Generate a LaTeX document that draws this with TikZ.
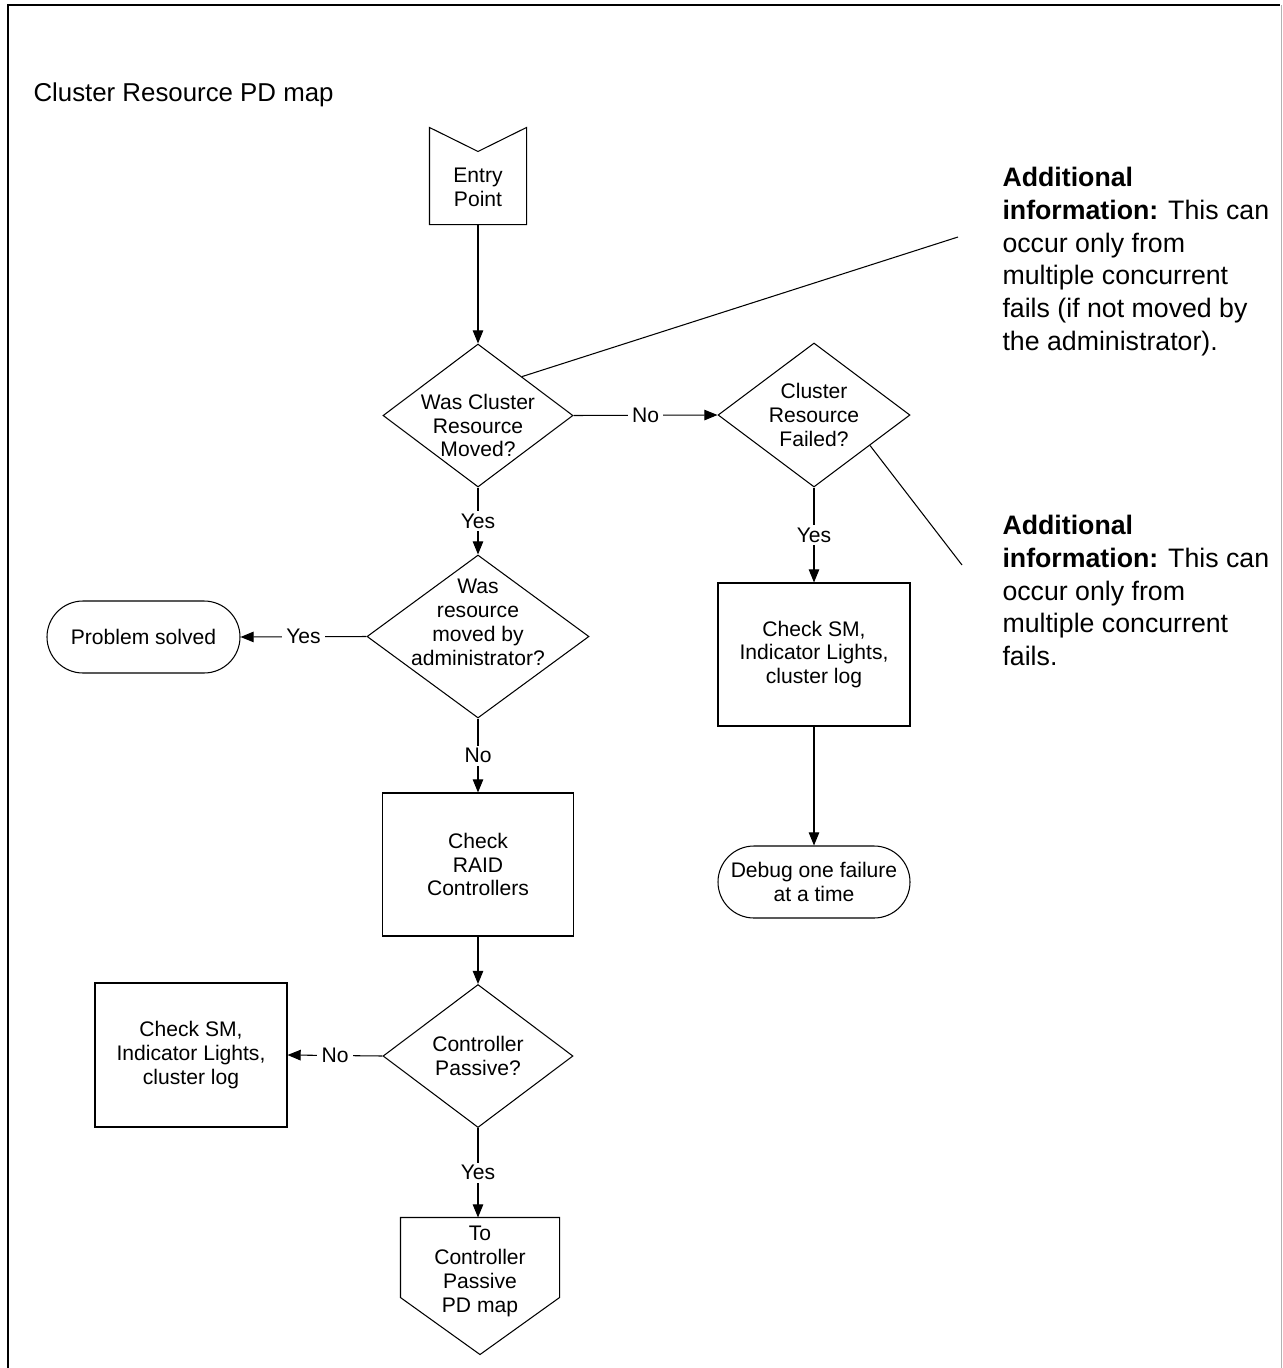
\documentclass[tikz,border=0pt]{standalone}
\usepackage{fontspec}
\setmainfont{Liberation Sans}
\usetikzlibrary{arrows.meta,calc,shapes.geometric,shapes.misc}

\begin{document}
\begin{tikzpicture}[
  line width=.6pt,
  flow/.style={font=\fontsize{12}{13.6}\selectfont,align=center,inner sep=0pt},
  dia/.style={draw,diamond,inner sep=0pt},
  box/.style={flow,draw,rectangle},
  term/.style={flow,draw,rounded rectangle},
  lbl/.style={flow,fill=white,inner xsep=2.5pt,inner ysep=1.5pt},
  link/.style={-{Triangle[length=7.5pt,width=6pt]}},
  note/.style={font=\fontsize{15.2}{18.6}\selectfont,align=left,inner sep=0pt,anchor=north west}]
  % Page frame (open at the bottom) and title.
  \useasboundingbox (0,0) rectangle (25.66,-27.36);
  \draw[line width=.9pt] (0.16,-27.36) -- (0.16,-0.1) -- (25.6,-0.1);
  \draw[black!30] (25.63,-0.1) -- (25.63,-27.36);
  \node[font=\fontsize{14.7}{17}\selectfont,anchor=base west,inner sep=0pt] (title) at (0.66,-2.02) {Cluster Resource PD map};
  % Entry point, notched at the top.
  \node[minimum width=1.92cm,minimum height=1.92cm,inner sep=0pt] (entry) at (9.56,-3.52) {};
  \draw (entry.north west) -- ($(entry.north)+(0,-.48)$) -- (entry.north east) -- (entry.south east) -- (entry.south west) -- cycle;
  \node[flow] (entrytxt) at ($(entry)+(0,-.22)$) {Entry\\Point};
  % Decisions (text set over the empty diamonds).
  \node[dia,minimum width=3.8cm,minimum height=2.86cm] (moved) at (9.56,-8.31) {};
  \node[flow] (movedtxt) at ($(moved)+(0,-.2)$) {Was Cluster\\Resource\\Moved?};
  \node[dia,minimum width=3.84cm,minimum height=2.88cm] (failed) at (16.28,-8.3) {};
  \node[flow] (failedtxt) at (failed) {Cluster\\Resource\\Failed?};
  \node[dia,minimum width=4.44cm,minimum height=3.26cm] (byadmin) at (9.56,-12.73) {};
  \node[flow] (byadmintxt) at ($(byadmin)+(0,.28)$) {Was\\resource\\moved by\\administrator?};
  \node[dia,minimum width=3.8cm,minimum height=2.86cm] (passive) at (9.56,-21.12) {};
  \node[flow] (passivetxt) at (passive) {Controller\\Passive?};
  % Actions and terminals.
  \node[box,minimum width=3.82cm,minimum height=2.86cm] (raid) at (9.56,-17.29) {Check\\RAID\\Controllers};
  \node[box,minimum width=3.84cm,minimum height=2.88cm] (smleft) at (3.82,-21.1) {Check SM,\\Indicator Lights,\\cluster log};
  \node[box,minimum width=3.84cm,minimum height=2.86cm] (smright) at (16.28,-13.09) {Check SM,\\Indicator Lights,\\cluster log};
  \node[term,minimum width=3.86cm,minimum height=1.44cm] (solved) at (2.87,-12.74) {Problem solved};
  \node[term,minimum width=3.84cm,minimum height=1.44cm] (debug) at (16.28,-17.64) {Debug one failure\\at a time};
  % Off-page connector, pointed at the bottom.
  \node[minimum width=3.16cm,minimum height=2.72cm,inner sep=0pt] (topd) at (9.6,-25.72) {};
  \draw (topd.north west) -- (topd.north east) -- ($(topd.south east)+(0,1.14)$) -- (topd.south) -- ($(topd.south west)+(0,1.14)$) -- cycle;
  \node[flow] (topdtxt) at ($(topd)+(0,.29)$) {To\\Controller\\Passive\\PD map};
  % Flow lines.
  \draw[link] (entry.south) -- (moved.north);
  \draw[link] (moved.east) -- node[lbl] (no1) {No} (failed.west);
  \draw[link] (moved.south) -- node[lbl] (yes1) {Yes} (byadmin.north);
  \draw[link] (byadmin.west) -- node[lbl] (yes2) {Yes} (solved.east);
  \draw[link] (byadmin.south) -- node[lbl] (no2) {No} (raid.north);
  \draw[link] (raid.south) -- (passive.north);
  \draw[link] (passive.west) -- node[lbl] (no3) {No} (smleft.east);
  \draw[link] (passive.south) -- node[lbl] (yes3) {Yes} (passive.south |- topd.north);
  \draw[link] (failed.south) -- node[lbl] (yes4) {Yes} (smright.north);
  \draw[link] (smright.south) -- (debug.north);
  % Notes and their leader lines.
  \node[note] (note1) at (20.04,-3.34) {\textbf{Additional}\\\textbf{information:} This can\\occur only from\\multiple concurrent\\fails (if not moved by\\the administrator).};
  \node[note] (note2) at (20.04,-10.3) {\textbf{Additional}\\\textbf{information:} This can\\occur only from\\multiple concurrent\\fails.};
  \coordinate (lead1) at (19.16,-4.74);
  \coordinate (lead2) at (19.24,-11.3);
  \draw ($(moved.north)!.46!(moved.east)$) -- (lead1);
  \draw ($(failed.east)!.42!(failed.south)$) -- (lead2);
\end{tikzpicture}
\end{document}
